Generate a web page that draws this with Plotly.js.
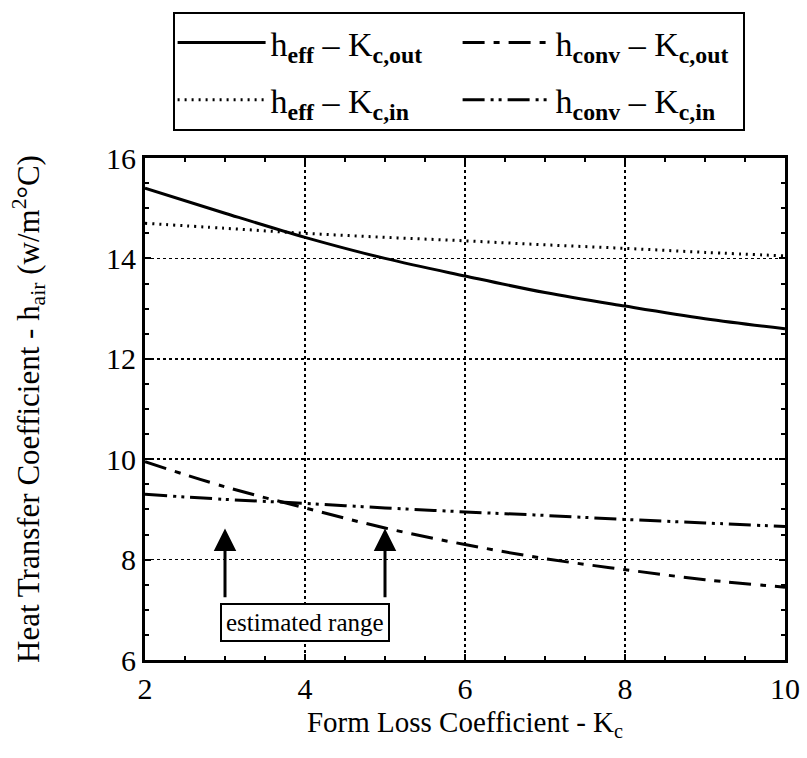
<!DOCTYPE html>
<html>
<head>
<meta charset="utf-8">
<script src="https://cdn.plot.ly/plotly-3.0.1.min.js"></script>
<style>html,body{margin:0;padding:0;background:#fff;}#chart{width:807px;height:758px;}</style>
</head>
<body>
<div id="chart"></div>
<script>
// Form loss coefficient values (x)
const kc = [2, 3, 4, 5, 6, 7, 8, 9, 10];
// Series values (W/m^2 °C)
const hEffOut  = [15.4, 14.9, 14.42, 14.0, 13.65, 13.32, 13.05, 12.8, 12.6];
const hEffIn   = [14.7, 14.6, 14.5, 14.42, 14.35, 14.27, 14.2, 14.12, 14.05];
const hConvOut = [9.95, 9.45, 9.03, 8.63, 8.3, 8.02, 7.8, 7.6, 7.45];
const hConvIn  = [9.3, 9.2, 9.12, 9.03, 8.95, 8.88, 8.8, 8.73, 8.66];
// Series labels
const names = [
  'h<sub><b>eff</b></sub> – K<sub><b>c,out</b></sub>',
  'h<sub><b>conv</b></sub> – K<sub><b>c,out</b></sub>',
  'h<sub><b>eff</b></sub> – K<sub><b>c,in</b></sub>',
  'h<sub><b>conv</b></sub> – K<sub><b>c,in</b></sub>'
];
// Estimated range markers
const rangeX = [3, 5];
const arrowTail = 7.22, arrowHead = 8.62;
const rangeLabel = 'estimated range';
const rangeLabelPos = {x: 4, y: 6.75};

const serif = "'Liberation Serif', 'Times New Roman', serif";
const traces = [
  {x: kc, y: hEffOut, name: names[0], legendgroup: 'g1', mode: 'lines', line: {color: 'black', width: 3, dash: 'solid', shape: 'spline'}},
  {x: kc, y: hConvOut, name: names[1], legendgroup: 'g2', mode: 'lines', line: {color: 'black', width: 3, dash: '22px,9px,6px,9px', shape: 'spline'}},
  {x: kc, y: hEffIn, name: names[2], legendgroup: 'g3', mode: 'lines', line: {color: 'black', width: 3, dash: '2px,5px', shape: 'spline'}},
  {x: kc, y: hConvIn, name: names[3], legendgroup: 'g4', mode: 'lines', line: {color: 'black', width: 3, dash: '22px,6px,3px,5px,3px,6px', shape: 'spline'}}
];

const annotations = rangeX.map(function (xv) {
  return {x: xv, y: arrowHead, ax: xv, ay: arrowTail, xref: 'x', yref: 'y', axref: 'x', ayref: 'y',
    text: '', showarrow: true, arrowhead: 2, arrowsize: 1.5, arrowwidth: 3, arrowcolor: 'black'};
});
annotations.push({x: rangeLabelPos.x, y: rangeLabelPos.y, xref: 'x', yref: 'y', text: rangeLabel,
  showarrow: false, font: {family: serif, size: 25, color: 'black'}, bordercolor: 'black', borderwidth: 2,
  bgcolor: 'white', borderpad: 4});

const axisCommon = {
  showline: true, linecolor: 'black', linewidth: 3, mirror: 'allticks',
  ticks: 'inside', ticklen: 6, tickwidth: 2, tickcolor: 'black',
  showgrid: true, gridcolor: 'black', griddash: 'dot', gridwidth: 1.5,
  zeroline: false, tickfont: {family: serif, size: 30, color: 'black'},
  minor: {dtick: 0.5, ticks: 'inside', ticklen: 4, tickwidth: 2, tickcolor: 'black', showgrid: false}
};

const layout = {
  width: 807, height: 758,
  margin: {l: 145, r: 22, t: 152, b: 98},
  paper_bgcolor: 'white', plot_bgcolor: 'white',
  font: {family: serif, color: 'black'},
  showlegend: true,
  legend: {orientation: 'h', x: 0.49, xanchor: 'center', y: 1.291, yanchor: 'top',
    bordercolor: 'black', borderwidth: 2, bgcolor: 'white', entrywidth: 182, itemwidth: 88,
    font: {family: serif, size: 34, color: 'black'}, traceorder: 'grouped', tracegroupgap: 10},
  xaxis: Object.assign({}, axisCommon, {range: [2, 10], dtick: 2, tick0: 2,
    title: {text: 'Form Loss Coefficient - K<sub>c</sub>', font: {family: serif, size: 29, color: 'black'}, standoff: 8}}),
  yaxis: Object.assign({}, axisCommon, {range: [6, 16], dtick: 2, tick0: 6,
    title: {text: 'Heat Transfer Coefficient - h<sub>air</sub> (w/m<sup>2</sup>°C)', font: {family: serif, size: 31, color: 'black'}, standoff: 58}}),
  annotations: annotations
};

Plotly.newPlot('chart', traces, layout, {displayModeBar: false, staticPlot: true});
</script>
</body>
</html>
